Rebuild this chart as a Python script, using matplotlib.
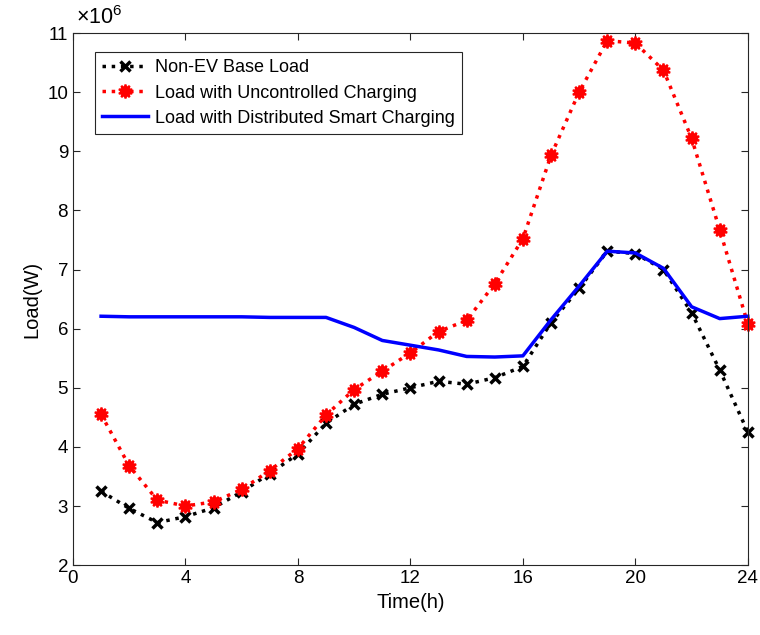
import numpy as np
from matplotlib import pyplot as plt

plt.rcParams['font.family'] = ['Liberation Sans', 'DejaVu Sans']
plt.rcParams['mathtext.fontset'] = 'custom'
plt.rcParams['mathtext.rm'] = 'Liberation Sans'
plt.rcParams['mathtext.it'] = 'Liberation Sans'

hours = np.arange(1, 25)
# load values in units of 1e6 W
base_load = [3.25, 2.96, 2.72, 2.82, 2.97, 3.24, 3.55, 3.88, 4.40, 4.72, 4.89, 5.00,
             5.11, 5.06, 5.17, 5.36, 6.10, 6.68, 7.31, 7.27, 7.00, 6.27, 5.30, 4.25]
uncontrolled = [4.55, 3.68, 3.10, 3.00, 3.07, 3.28, 3.60, 3.97, 4.54, 4.97, 5.28, 5.59,
                5.95, 6.14, 6.76, 7.52, 8.93, 10.00, 10.87, 10.83, 10.37, 9.22, 7.67, 6.08]
smart = [6.21, 6.20, 6.20, 6.20, 6.20, 6.20, 6.19, 6.19, 6.19, 6.02, 5.80, 5.72,
         5.64, 5.53, 5.52, 5.54, 6.15, 6.72, 7.31, 7.28, 7.02, 6.37, 6.17, 6.21]

fig = plt.figure(figsize=(7.6, 6.35), dpi=100)
ax = fig.add_axes([0.096, 0.110, 0.888, 0.838])

ax.plot(hours, base_load, color='black', linestyle=':', linewidth=2.5,
        marker='x', markersize=7, markeredgewidth=2.5, label='Non-EV Base Load', clip_on=False)
ax.plot(hours, uncontrolled, color='red', linestyle=':', linewidth=2.5,
        marker=(10, 1, 0), markersize=10, markeredgewidth=1.5,
        label='Load with Uncontrolled Charging', clip_on=False)
ax.plot(hours, smart, color='blue', linestyle='-', linewidth=2.5,
        label='Load with Distributed Smart Charging', clip_on=False)

ax.set_xlim(0, 24)
ax.set_ylim(2, 11)
ax.set_xticks([0, 4, 8, 12, 16, 20, 24])
ax.set_yticks(np.arange(2, 12))
ax.tick_params(direction='in', top=True, right=True, labelsize=13.5, length=5, color='#262626')
for s in ax.spines.values():
    s.set_color('#262626')
    s.set_linewidth(0.8)
ax.text(0.004, 1.008, r'$\times$10$^{6}$', transform=ax.transAxes, fontsize=15.5,
        ha='left', va='bottom')
ax.set_xlabel('Time(h)', fontsize=14.5)
ax.set_ylabel('Load(W)', fontsize=14.5)

leg = ax.legend(loc='upper left', bbox_to_anchor=(0.033, 0.964), borderaxespad=0,
                fontsize=13, fancybox=False, edgecolor='#262626', framealpha=1,
                handlelength=2.5, borderpad=0.4, labelspacing=0.45, handletextpad=0.4)
leg.get_frame().set_linewidth(0.8)

fig.savefig('out.png', dpi=100)
